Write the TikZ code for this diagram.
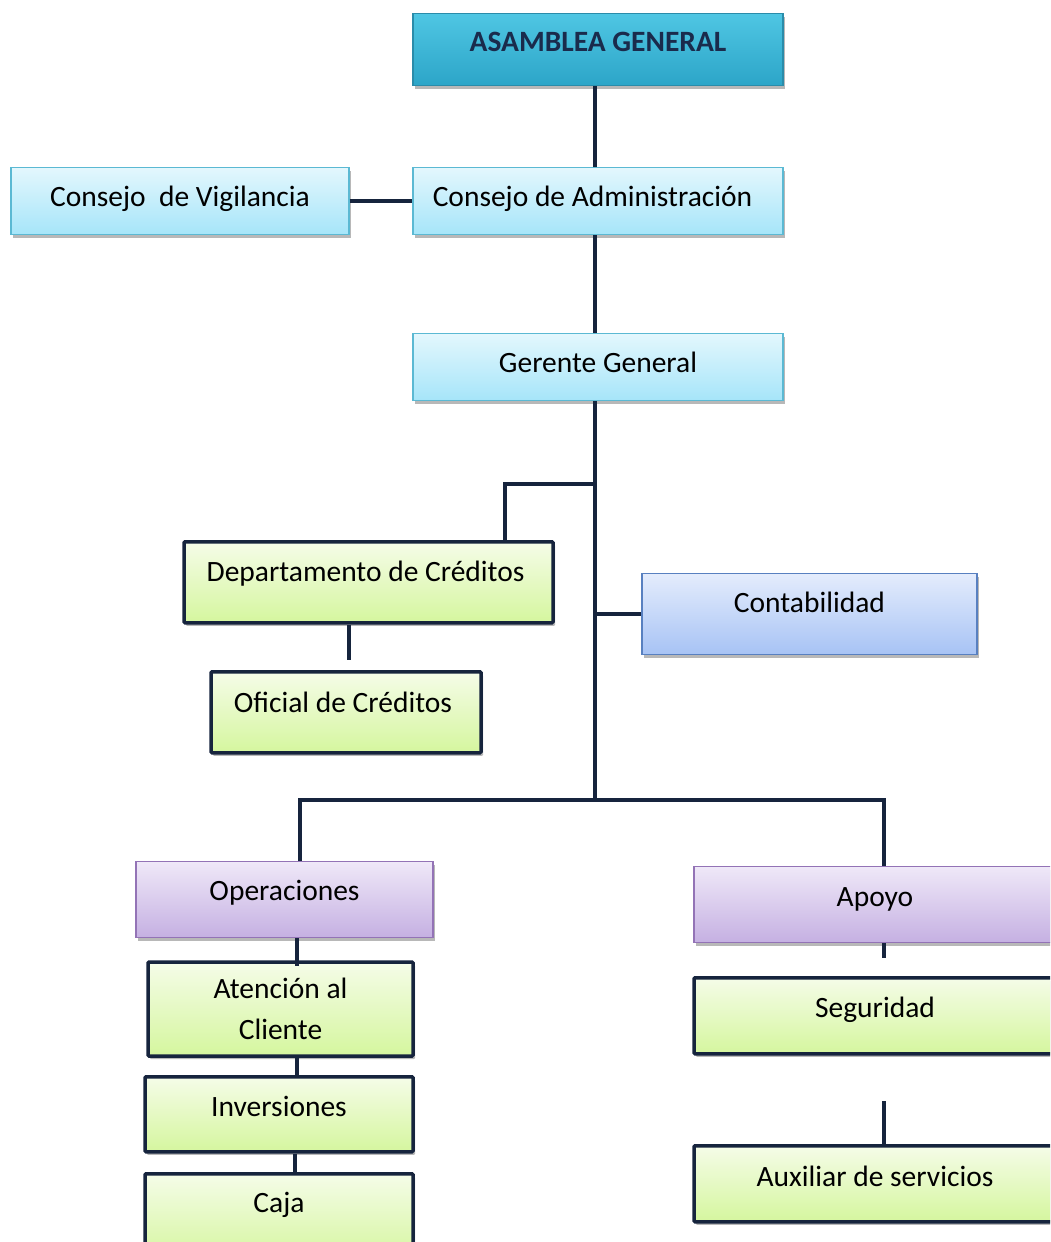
\documentclass[tikz,border=0pt]{standalone}
\usepackage{fontspec}
\setmainfont{Carlito}
\usetikzlibrary{shadows,calc}
\definecolor{navy}{HTML}{16243D}
\definecolor{titletext}{HTML}{1A2B4C}
\definecolor{tealtop}{HTML}{4FC6E3}
\definecolor{tealbot}{HTML}{2CA5C8}
\definecolor{tealline}{HTML}{2A8CAA}
\definecolor{skytop}{HTML}{E3F7FD}
\definecolor{skybot}{HTML}{A6E5F9}
\definecolor{skyline}{HTML}{5BB9D3}
\definecolor{bluetop}{HTML}{E4ECFC}
\definecolor{bluebot}{HTML}{A7C3F5}
\definecolor{blueline}{HTML}{5880C0}
\definecolor{purtop}{HTML}{EFE8F8}
\definecolor{purbot}{HTML}{C5B0E2}
\definecolor{purline}{HTML}{9373B6}
\definecolor{grntop}{HTML}{F5FCE8}
\definecolor{grnbot}{HTML}{D5F69E}
\begin{document}
\begin{tikzpicture}[x=1pt,y=-1pt,
  base/.style={rectangle, inner ysep=0pt, inner xsep=4pt, anchor=north,
    font=\fontsize{29.5}{35}\selectfont,
    drop shadow={shadow xshift=2pt, shadow yshift=-3pt, opacity=0.28, fill=black}},
  tb/.style 2 args={text height=#1pt, text depth=#2pt},
  titlebox/.style={base, top color=tealtop, bottom color=tealbot, draw=tealline,
    line width=1.2pt, text=titletext, font=\fontsize{29.5}{35}\selectfont\bfseries},
  skybox/.style={base, top color=skytop, bottom color=skybot, draw=skyline, line width=1.2pt},
  bluebox/.style={base, top color=bluetop, bottom color=bluebot, draw=blueline, line width=1.2pt},
  purbox/.style={base, top color=purtop, bottom color=purbot, draw=purline, line width=1.2pt},
  grnbox/.style={base, top color=grntop, bottom color=grnbot, draw=navy, line width=3.5pt,
    rounded corners=1pt},
  conn/.style={draw=navy, line width=4pt, line join=miter}
]
\useasboundingbox (0,0) rectangle (1050,1242);
\clip (0,0) rectangle (1050,1242);

% governing bodies
\node[titlebox, minimum width=370pt, tb={38}{34}] (asm) at (598,13) {ASAMBLEA GENERAL};
\node[skybox, minimum width=338pt, tb={39}{28}] (vig) at (180,167) {Consejo\ \ de Vigilancia};
\node[skybox, minimum width=370pt, tb={39}{28}] (adm) at (598,167) {Consejo de Administración\hspace*{11pt}};
\node[skybox, minimum width=370pt, tb={39}{28}] (gg) at (598,333) {Gerente General};

% credit department and accounting
\node[grnbox, minimum width=369pt, tb={40}{41}] (dep) at (368.5,540) {Departamento de Créditos\hspace*{6pt}};
\node[grnbox, minimum width=270pt, tb={41}{40}] (ofi) at (346,670) {Oficial de Créditos\hspace*{6pt}};
\node[bluebox, minimum width=335pt, tb={39}{42}] (con) at (809.5,573) {Contabilidad};

% operations branch
\node[purbox, minimum width=297pt, tb={39}{37}] (ope) at (284.5,861) {Operaciones};
\node[grnbox, minimum width=265pt, minimum height=94pt, anchor=center, align=center]
  (ate) at (280.5,1009) {Atención al\\[6pt]Cliente};
\node[grnbox, minimum width=268pt, tb={40}{35}] (inv) at (279,1075) {Inversiones};
\node[grnbox, minimum width=268pt, tb={39}{49}] (caja) at (279,1172) {Caja};

% support branch
\node[purbox, minimum width=362pt, tb={40}{36}] (apo) at (875,866) {Apoyo};
\node[grnbox, minimum width=362pt, tb={40}{36}] (seg) at (875,976) {Seguridad};
\node[grnbox, minimum width=362pt, tb={41}{35}] (aux) at (875,1144) {Auxiliar de servicios};

% connectors
\coordinate (spine) at (595,0);
\coordinate (hub) at (595,800);
\draw[conn] (asm.south -| spine) -- (adm.north -| spine);
\draw[conn] (vig.east) -- (adm.west);
\draw[conn] (adm.south -| spine) -- (gg.north -| spine);
\draw[conn] (gg.south -| spine) -- (hub);

\coordinate (dk) at (505,484);
\draw[conn] ($(dk -| spine)+(-2,0)$) -- (dk) -- (dk |- dep.north);
\coordinate (dsub) at (349,660);
\draw[conn] (dsub |- dep.south) -- (dsub);
\draw[conn] ($(con.west -| spine)+(-2,0)$) -- (con.west);

\coordinate (lo) at (300,800);
\coordinate (ro) at (884,800);
\draw[conn] (lo |- ope.north) -- (lo) -- (ro) -- (ro |- apo.north);

\coordinate (oc) at (297,0);
\coordinate (oc2) at (295,0);
\draw[conn] (oc |- ope.south) -- ($(oc |- ate.north)+(0,6)$);
\draw[conn] (oc |- ate.south) -- (oc |- inv.north);
\draw[conn] (oc2 |- inv.south) -- (oc2 |- caja.north);

\coordinate (as) at (884,958);
\draw[conn] (as |- apo.south) -- (as);
\coordinate (au) at (884,1101);
\draw[conn] (au) -- (au |- aux.north);
\end{tikzpicture}
\end{document}
